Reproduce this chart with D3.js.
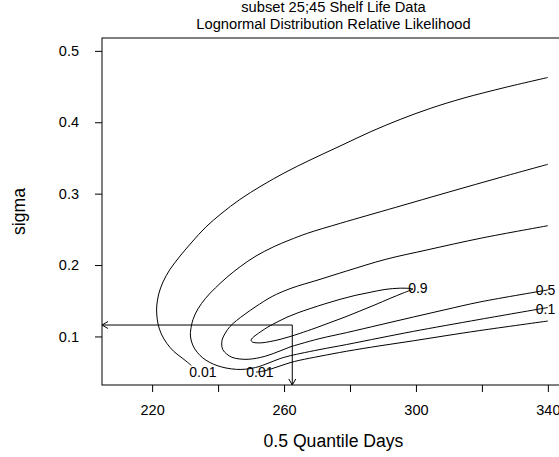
<!DOCTYPE html>
<html>
<head>
<meta charset="utf-8">
<script src="https://cdn.jsdelivr.net/npm/d3@7"></script>
<style>
  html, body { margin: 0; padding: 0; background: #fff; }
  svg { display: block; }
  text { font-family: "Liberation Sans", Arial, sans-serif; fill: #000; }
</style>
</head>
<body>
<svg id="chart" width="559" height="457"></svg>
<script>
// ---- data (0.5 quantile days, sigma) ----
const titleLines = ["subset 25;45 Shelf Life Data", "Lognormal Distribution Relative Likelihood"];
const xLabel = "0.5 Quantile Days";
const yLabel = "sigma";
const xTicks = [220, 240, 260, 280, 300, 320, 340];
const xTickLabels = ["220", "", "260", "", "300", "", "340"];
const yTicks = [0.1, 0.2, 0.3, 0.4, 0.5];
const yTickLabels = ["0.1", "0.2", "0.3", "0.4", "0.5"];

// contour level 0.01, two pieces (cut at the sigma = 0.05 grid edge)
const contour001a = [[340.0,0.4627],[327.0,0.4487],[314.3,0.4336],[304.3,0.4193],[295.2,0.4039],[286.1,0.3864],
  [277.0,0.3667],[267.9,0.3471],[260.3,0.3296],[253.3,0.3114],[246.6,0.2918],[241.2,0.2729],[236.3,0.2533],
  [232.1,0.2323],[228.5,0.2127],[225.4,0.1938],[223.3,0.1763],[222.0,0.1595],[221.4,0.1427],[221.4,0.1314],
  [221.8,0.1174],[222.8,0.1034],[224.5,0.0901],[226.6,0.0789],[229.1,0.0698],[231.2,0.0621],[231.9,0.0593]];
const contour001b = [[251.5,0.0500],[253.9,0.0516],[256.7,0.0554],[259.4,0.0596],[261.8,0.0632],[264.8,0.0667],
  [270.9,0.0723],[279.0,0.0793],[289.1,0.0869],[299.2,0.0939],[309.1,0.1011],[319.4,0.1083],[340.0,0.1216]];
// contour level 0.1
const contour01 = [[340.0,0.3411],[325.5,0.3226],[310.3,0.3027],[293.7,0.2806],[277.1,0.2585],[267.1,0.2445],
  [261.5,0.2347],[256.9,0.2257],[251.5,0.2127],[246.7,0.1977],[242.7,0.1829],[239.2,0.1681],[236.2,0.1534],
  [233.9,0.1386],[232.4,0.1238],[231.7,0.1090],[231.6,0.1020],[231.9,0.0936],[232.6,0.0852],[233.8,0.0771],
  [235.4,0.0698],[237.4,0.0638],[239.7,0.0592],[242.4,0.0558],[245.6,0.0539],[248.2,0.0541],[250.3,0.0554],
  [252.4,0.0578],[254.5,0.0613],[256.7,0.0653],[258.8,0.0690],[261.2,0.0722],[264.8,0.0760],[270.9,0.0817],
  [279.0,0.0887],[289.1,0.0980],[299.2,0.1071],[319.4,0.1239],[340.0,0.1405]];
// contour level 0.5
const contour05 = [[340.0,0.2551],[320.0,0.2379],[303.3,0.2211],[290.9,0.2081],[279.0,0.1917],[270.3,0.1791],
  [262.1,0.1674],[256.4,0.1560],[251.5,0.1420],[248.2,0.1314],[245.6,0.1223],[243.6,0.1139],[242.2,0.1048],
  [241.3,0.0964],[241.1,0.0894],[241.4,0.0817],[242.6,0.0754],[244.2,0.0708],[246.6,0.0684],[249.1,0.0680],
  [251.7,0.0695],[254.2,0.0722],[256.7,0.0760],[259.1,0.0803],[261.8,0.0852],[264.8,0.0894],[270.9,0.0971],
  [279.0,0.1054],[289.1,0.1163],[299.2,0.1272],[309.1,0.1377],[319.4,0.1483],[340.0,0.1651]];
// contour level 0.9 (closed)
const contour09 = [[299.1,0.1665],[295.2,0.1676],[290.6,0.1658],[286.1,0.1618],[281.5,0.1574],[277.0,0.1520],
  [272.4,0.1457],[267.9,0.1390],[264.2,0.1331],[260.9,0.1270],[257.9,0.1202],[255.1,0.1132],[253.0,0.1069],
  [251.5,0.1020],[250.4,0.0978],[250.0,0.0946],[250.4,0.0922],[251.5,0.0911],[253.3,0.0911],[255.7,0.0928],
  [258.8,0.0959],[261.8,0.0998],[264.8,0.1043],[269.4,0.1116],[273.9,0.1193],[278.5,0.1272],[283.0,0.1356],
  [287.6,0.1443],[292.1,0.1532],[295.8,0.1602],[298.2,0.1646]];

const contourLabels = [
  {text: "0.01", t: 235.4, s: 0.0502},
  {text: "0.01", t: 252.7, s: 0.0502},
  {text: "0.9",  t: 300.6, s: 0.1674},
  {text: "0.5",  t: 339.3, s: 0.1644},
  {text: "0.1",  t: 339.3, s: 0.1377}
];
// indicated point (arrows to axes)
const markT = 262.5;
const markSigma = 0.116;

// ---- layout ----
const svg = d3.select("#chart");
const plot = {left: 102, right: 565, top: 38, bottom: 385};
const xDomain = [204.8, 345.2], yDomain = [0.032, 0.518];
const x = d3.scaleLinear().domain(xDomain).range([plot.left, plot.right]);
const y = d3.scaleLinear().domain(yDomain).range([plot.bottom, plot.top]);

// titles
svg.selectAll("text.title").data(titleLines).enter().append("text")
  .attr("class", "title")
  .attr("x", (plot.left + plot.right) / 2)
  .attr("y", (d, i) => 12 + i * 17)
  .attr("text-anchor", "middle")
  .style("font-size", "14.7px")
  .text(d => d);

// axes
const xAxis = d3.axisBottom(x).tickValues(xTicks).tickSize(7).tickPadding(12.5)
  .tickFormat((d, i) => xTickLabels[i]).tickSizeOuter(0);
const gx = svg.append("g").attr("transform", `translate(0,${plot.bottom})`).call(xAxis);
gx.select(".domain").remove();
gx.selectAll("text").style("font-size", "14.5px").style("font-family", '"Liberation Sans", Arial, sans-serif');
gx.selectAll("line").attr("stroke", "#000");

const yAxis = d3.axisLeft(y).tickValues(yTicks).tickSize(7).tickPadding(16)
  .tickFormat((d, i) => yTickLabels[i]).tickSizeOuter(0);
const gy = svg.append("g").attr("transform", `translate(${plot.left},0)`).call(yAxis);
gy.select(".domain").remove();
gy.selectAll("text").style("font-size", "14.5px").style("font-family", '"Liberation Sans", Arial, sans-serif');
gy.selectAll("line").attr("stroke", "#000");

// box
svg.append("rect")
  .attr("x", plot.left).attr("y", plot.top)
  .attr("width", plot.right - plot.left).attr("height", plot.bottom - plot.top)
  .attr("fill", "none").attr("stroke", "#000").attr("stroke-width", 1);

// axis labels
svg.append("text")
  .attr("x", (plot.left + plot.right) / 2).attr("y", 446.5)
  .attr("text-anchor", "middle").style("font-size", "17.6px").text(xLabel);
svg.append("text")
  .attr("transform", `translate(25,${211.5}) rotate(-90)`)
  .attr("text-anchor", "middle").style("font-size", "17.6px").text(yLabel);

// contours
const line = d3.line().x(d => x(d[0])).y(d => y(d[1])).curve(d3.curveCatmullRom.alpha(0.5));
const lineClosed = d3.line().x(d => x(d[0])).y(d => y(d[1])).curve(d3.curveCatmullRomClosed.alpha(0.5));
const g = svg.append("g");
[contour001a, contour001b, contour01, contour05].forEach(c => {
  g.append("path").attr("d", line(c)).attr("fill", "none").attr("stroke", "#000").attr("stroke-width", 1);
});
g.append("path").attr("d", lineClosed(contour09)).attr("fill", "none").attr("stroke", "#000").attr("stroke-width", 1);

g.selectAll("text.clab").data(contourLabels).enter().append("text")
  .attr("class", "clab")
  .attr("x", d => x(d.t)).attr("y", d => y(d.s))
  .attr("text-anchor", "middle").attr("dy", "0.35em")
  .style("font-size", "14px")
  .text(d => d.text);

// arrows
const px = x(markT), py = y(markSigma);
const x0 = x(xDomain[0]), y0 = y(yDomain[0]);
const ah = 7, ang = Math.PI / 6;
const arrows = svg.append("g").attr("stroke", "#000").attr("stroke-width", 1).attr("fill", "none");
arrows.append("path").attr("d", `M${px},${py}H${x0}`);
arrows.append("path").attr("d",
  `M${x0 + ah * Math.cos(ang)},${py - ah * Math.sin(ang)}L${x0},${py}L${x0 + ah * Math.cos(ang)},${py + ah * Math.sin(ang)}`);
arrows.append("path").attr("d", `M${px},${py}V${y0}`);
arrows.append("path").attr("d",
  `M${px - ah * Math.sin(ang)},${y0 - ah * Math.cos(ang)}L${px},${y0}L${px + ah * Math.sin(ang)},${y0 - ah * Math.cos(ang)}`);
</script>
</body>
</html>
